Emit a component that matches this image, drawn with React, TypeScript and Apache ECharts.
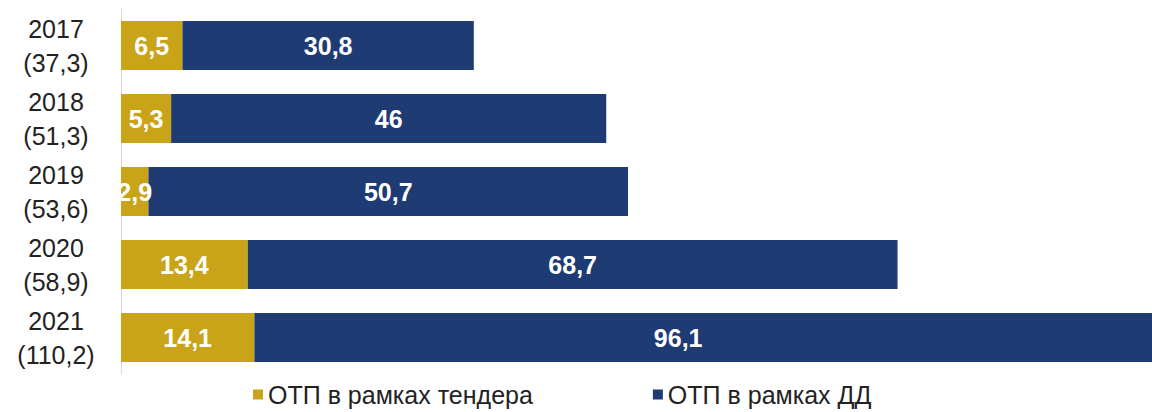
import React, { useEffect, useRef } from "react";
import * as echarts from "echarts";

const years = ["2017", "2018", "2019", "2020", "2021"];
const totals = ["37,3", "51,3", "53,6", "58,9", "110,2"];
const tender = [6.5, 5.3, 2.9, 13.4, 14.1];
const dd = [30.8, 46, 50.7, 68.7, 96.1];
const seriesNames = ["ОТП в рамках тендера", "ОТП в рамках ДД"];

const GOLD = "#C9A418";
const NAVY = "#1F3B74";
const FONT = "'Liberation Sans Narrow', 'Arial Narrow', 'Liberation Sans', Arial, sans-serif";

const fmt = (v: number) => String(v).replace(".", ",");

export default function App() {
  const ref = useRef<HTMLDivElement>(null);
  useEffect(() => {
    if (!ref.current) return;
    const chart = echarts.init(ref.current, undefined, { renderer: "svg" });
    const categories = years.map((y, i) => `${y}\n(${totals[i]})`);
    chart.setOption({
      animation: false,
      textStyle: { fontFamily: FONT },
      grid: { left: 121, right: 0, top: 9, bottom: 38 },
      legend: {
        bottom: 0,
        left: 248,
        itemWidth: 10,
        itemHeight: 10,
        itemGap: 120,
        icon: "rect",
        textStyle: { fontSize: 25, color: "#222", fontFamily: FONT },
        data: seriesNames,
      },
      xAxis: {
        type: "value",
        min: 0,
        max: 109,
        show: false,
      },
      yAxis: {
        type: "category",
        inverse: true,
        data: categories,
        axisTick: { show: false },
        axisLine: { show: true, lineStyle: { color: "#d8d8d8", width: 1 } },
        axisLabel: {
          align: "center",
          margin: 65,
          fontSize: 25,
          lineHeight: 34,
          color: "#222",
          fontFamily: FONT,
        },
      },
      series: [
        {
          name: seriesNames[0],
          type: "bar",
          stack: "total",
          data: tender,
          barWidth: 49,
          itemStyle: { color: GOLD },
          label: {
            show: true,
            position: "inside",
            color: "#fff",
            fontWeight: "bold",
            fontSize: 25,
            fontFamily: FONT,
            formatter: (p: any) => fmt(p.value),
          },
        },
        {
          name: seriesNames[1],
          type: "bar",
          stack: "total",
          data: dd.map((v, i) =>
            i === dd.length - 1 ? { value: v, label: { offset: [-25, 0] } } : v
          ),
          barWidth: 49,
          itemStyle: { color: NAVY },
          label: {
            show: true,
            position: "inside",
            color: "#fff",
            fontWeight: "bold",
            fontSize: 25,
            fontFamily: FONT,
            formatter: (p: any) => fmt(p.value),
          },
        },
      ],
    });
    return () => chart.dispose();
  }, []);
  return <div ref={ref} style={{ width: 1152, height: 412, position: "absolute", left: 0, top: 0 }} />;
}
